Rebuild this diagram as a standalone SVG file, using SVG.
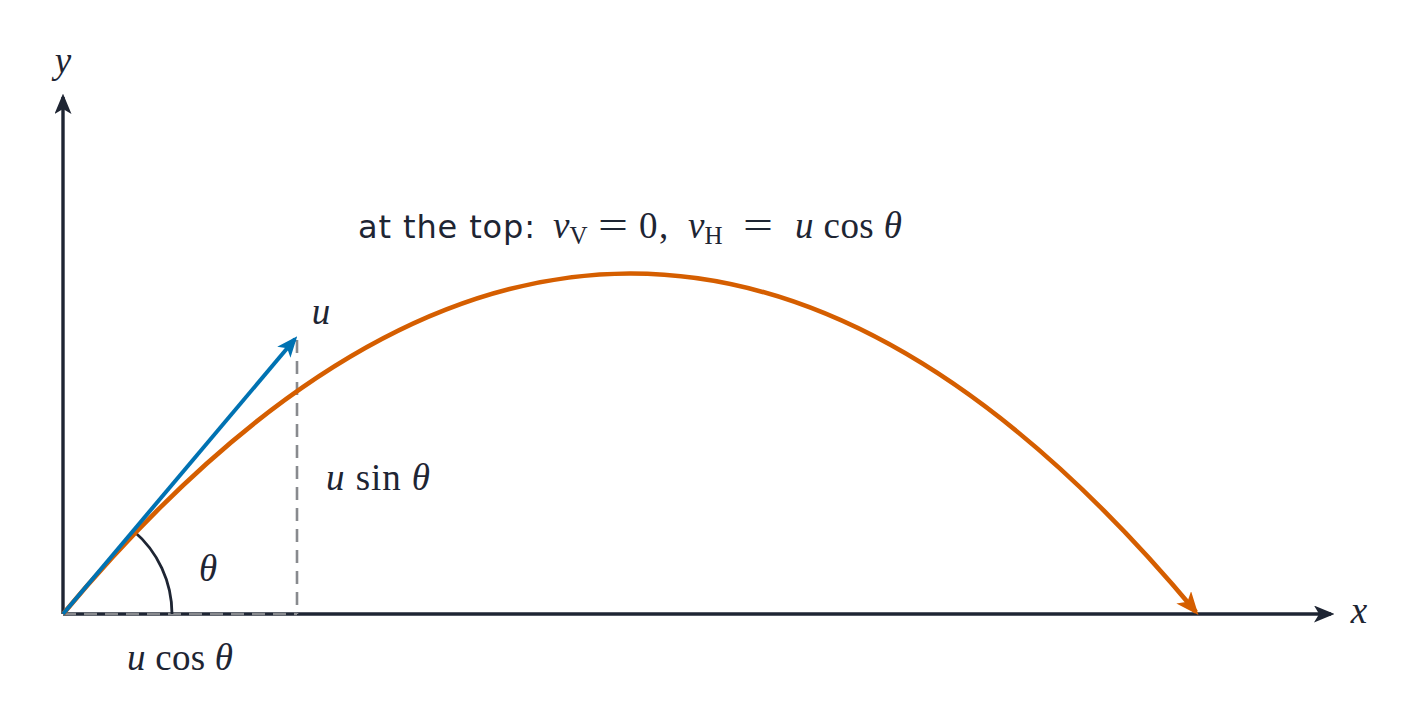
<svg xmlns="http://www.w3.org/2000/svg" width="1425" height="724" viewBox="0 0 1425 724">
<style>
.axis{stroke:#1e2533;stroke-width:3.4;fill:none}
.dash{stroke:#888a8e;stroke-width:2.6;stroke-dasharray:13,8;fill:none}
.m{font-family:"Liberation Serif","DejaVu Serif",serif;font-size:37px;fill:#1e2533}
.i{font-style:italic}
.sub{font-size:25px}
.s{font-family:"DejaVu Sans","Noto Sans",sans-serif;font-size:32px;fill:#1e2533}
</style>
<defs>
<marker id="ak" viewBox="0 0 12 10" refX="10" refY="5" markerWidth="6" markerHeight="5" orient="auto" markerUnits="strokeWidth">
<path d="M0,0 L12,5 L0,10 L3,5 z" fill="#1e2533"/>
</marker>
<marker id="ab" viewBox="0 0 12 10" refX="10" refY="5" markerWidth="5.2" markerHeight="4.4" orient="auto" markerUnits="strokeWidth">
<path d="M0,0 L12,5 L0,10 L3,5 z" fill="#0072b2"/>
</marker>
<marker id="ao" viewBox="0 0 12 10" refX="10" refY="5" markerWidth="5" markerHeight="4.2" orient="auto" markerUnits="strokeWidth">
<path d="M0,0 L12,5 L0,10 L3,5 z" fill="#d55e00"/>
</marker>
</defs>
<g id="connectors">
<line class="axis" x1="63" y1="614" x2="63" y2="97" marker-end="url(#ak)"/>
<line class="axis" x1="63" y1="614" x2="1331" y2="614" marker-end="url(#ak)"/>
<line class="dash" x1="63" y1="614" x2="297" y2="614"/>
<line class="dash" x1="297" y1="340" x2="297" y2="614"/>
<path d="M172,614 A109,109 0 0 0 133.3,530.8" stroke="#1e2533" stroke-width="2.8" fill="none"/>
<path d="M63,614 Q630.5,-66 1196,612" stroke="#d55e00" stroke-width="4.6" fill="none" marker-end="url(#ao)"/>
<line x1="63" y1="614" x2="295" y2="339" stroke="#0072b2" stroke-width="4" marker-end="url(#ab)"/>
</g>
<g id="labels">
<text class="m i" x="63" y="73" text-anchor="middle">y</text>
<text class="m i" x="1359" y="623" text-anchor="middle">x</text>
<text class="m i" x="321" y="324" text-anchor="middle">u</text>
<text class="m" x="326" y="490" textLength="104"><tspan class="i">u</tspan> sin <tspan class="i">θ</tspan></text>
<text class="m i" x="208" y="581" text-anchor="middle">θ</text>
<text class="m" x="127" y="670" textLength="106"><tspan class="i">u</tspan> cos <tspan class="i">θ</tspan></text>
<text class="s" x="358" y="238" textLength="177">at the top:</text>
<g id="toplabel" class="m">
<text x="553" y="238"><tspan class="i">v</tspan><tspan class="sub" dy="6">V</tspan></text>
<text x="598" y="238" textLength="30" lengthAdjust="spacingAndGlyphs">=</text>
<text x="639" y="238">0</text>
<text x="659" y="238">,</text>
<text x="688" y="238"><tspan class="i">v</tspan><tspan class="sub" dy="6">H</tspan></text>
<text x="743" y="238" textLength="30" lengthAdjust="spacingAndGlyphs">=</text>
<text x="795" y="238" textLength="107"><tspan class="i">u</tspan> cos <tspan class="i">θ</tspan></text>
</g>
</g>
</svg>
